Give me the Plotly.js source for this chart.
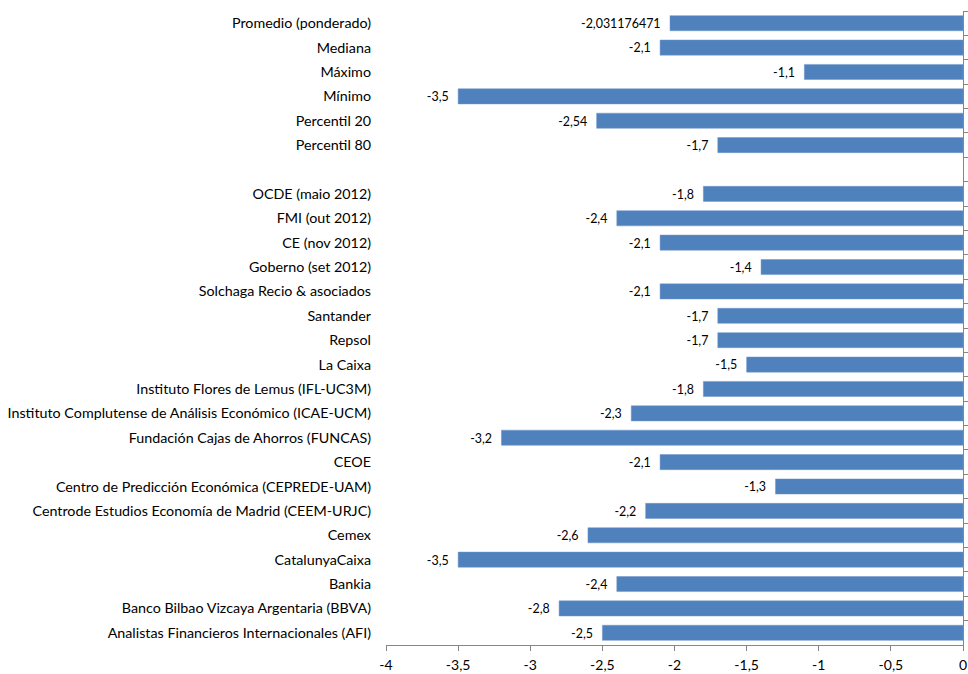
<!DOCTYPE html>
<html>
<head>
<meta charset="utf-8">
<script src="https://cdn.plot.ly/plotly-3.0.1.min.js"></script>
<style>html,body{margin:0;padding:0;background:#fff;}#chart{width:968px;height:674px;}</style>
</head>
<body>
<div id="chart"></div>
<script>
const categories = [
  "Promedio (ponderado)",
  "Mediana",
  "Máximo",
  "Mínimo",
  "Percentil 20",
  "Percentil 80",
  " ",
  "OCDE (maio 2012)",
  "FMI (out 2012)",
  "CE (nov 2012)",
  "Goberno (set 2012)",
  "Solchaga Recio & asociados",
  "Santander",
  "Repsol",
  "La Caixa",
  "Instituto Flores de Lemus (IFL-UC3M)",
  "Instituto Complutense de Análisis Económico (ICAE-UCM)",
  "Fundación Cajas de Ahorros (FUNCAS)",
  "CEOE",
  "Centro de Predicción Económica (CEPREDE-UAM)",
  "Centrode Estudios Economía de Madrid (CEEM-URJC)",
  "Cemex",
  "CatalunyaCaixa",
  "Bankia",
  "Banco Bilbao Vizcaya Argentaria (BBVA)",
  "Analistas Financieros Internacionales (AFI)"
];
const values = [
  -2.031176471, -2.1, -1.1, -3.5, -2.54, -1.7,
  null,
  -1.8, -2.4, -2.1, -1.4, -2.1, -1.7, -1.7, -1.5, -1.8, -2.3, -3.2, -2.1, -1.3, -2.2, -2.6, -3.5, -2.4, -2.8, -2.5
];
const xTicks = [-4, -3.5, -3, -2.5, -2, -1.5, -1, -0.5, 0];

const labels = values.map(v => v === null ? "" : String(v).replace(".", ",") + "\u00a0\u00a0");
const n = categories.length;
const FONT = "Lato, 'Open Sans', sans-serif";

const trace = {
  type: "bar",
  orientation: "h",
  x: values,
  y: categories,
  text: labels,
  textposition: "outside",
  textfont: {family: FONT, size: 14, color: "#000"},
  cliponaxis: false,
  width: 0.62,
  marker: {color: "#4F81BD", line: {color: "#6E97CC", width: 0.5}},
  hoverinfo: "x+y",
  showlegend: false
};

const layout = {
  width: 968,
  height: 674,
  margin: {l: 386, r: 5, t: 11, b: 29, pad: 0},
  paper_bgcolor: "#fff",
  plot_bgcolor: "#fff",
  separators: ",.",
  font: {family: FONT, size: 14, color: "#000"},
  xaxis: {
    range: [-4, 0],
    tickvals: xTicks,
    ticktext: xTicks.map(v => String(v).replace(".", ",")),
    showgrid: false,
    zeroline: false,
    showline: true,
    linecolor: "#868686",
    linewidth: 1,
    ticks: "outside",
    ticklen: 5,
    tickcolor: "#868686",
    ticklabelstandoff: 2,
    tickfont: {family: FONT, size: 14, color: "#000"},
    fixedrange: true
  },
  yaxis: {
    type: "category",
    categoryarray: categories,
    range: [n - 0.5, -0.5],
    showgrid: false,
    zeroline: false,
    showline: false,
    ticks: "",
    ticklabelstandoff: 14,
    tickfont: {family: FONT, size: 14.3, color: "#000"},
    fixedrange: true
  },
  yaxis2: {
    type: "category",
    categoryarray: categories,
    range: [n - 0.5, -0.5],
    overlaying: "y",
    side: "right",
    anchor: "x",
    showgrid: false,
    zeroline: false,
    showline: true,
    linecolor: "#868686",
    linewidth: 1,
    ticks: "outside",
    tickson: "boundaries",
    ticklen: 4,
    tickcolor: "#868686",
    showticklabels: false,
    fixedrange: true
  }
};

const dummy = {type: "scatter", x: [null], y: [categories[0]], yaxis: "y2", showlegend: false, hoverinfo: "skip", mode: "markers"};

Plotly.newPlot("chart", [trace, dummy], layout, {displayModeBar: false, staticPlot: true});
</script>
</body>
</html>
